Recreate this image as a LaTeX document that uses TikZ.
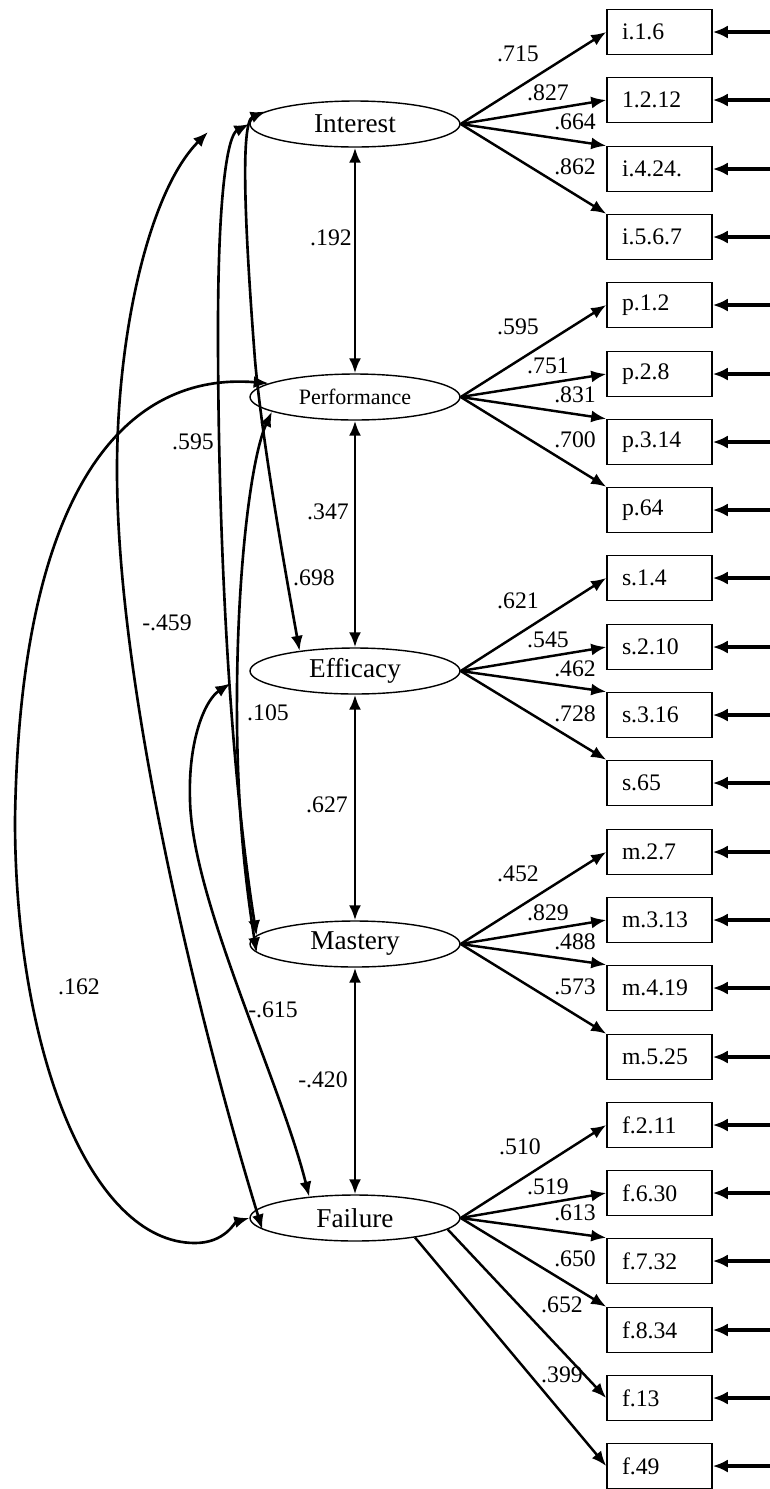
\documentclass[tikz,border=0pt]{standalone}
\usepackage{fontspec}
\setmainfont{Liberation Serif}
\usetikzlibrary{arrows.meta,shapes.geometric}

\begin{document}
\begin{tikzpicture}[x=0.02cm,y=-0.02cm,every node/.style={font=\fontsize{13.5}{14}\selectfont,inner sep=0pt},
latent/.style={ellipse,draw,line width=0.8pt,minimum width=4.2cm,minimum height=0.92cm,font=\fontsize{15.5}{16}\selectfont},
item/.style={draw,line width=0.9pt,text width=1.5cm,inner xsep=0.3cm,minimum height=0.9cm,align=left},
load/.style={-{Latex[length=3mm,width=2.4mm]},line width=1.4pt},
err/.style={-{Latex[length=3mm,width=2.6mm]},line width=2pt},
cov/.style={{Latex[length=3mm,width=2.4mm]}-{Latex[length=3mm,width=2.4mm]},line width=1.5pt}]
\useasboundingbox (0,0) rectangle (770,1489);
\node[latent] (int) at (355,124) {Interest};
\node[latent,font=\fontsize{12.5}{13}\selectfont] (perf) at (355,397) {Performance};
\node[latent] (eff) at (355,671) {Efficacy};
\node[latent] (mast) at (355,944) {Mastery};
\node[latent] (fail) at (355,1218) {Failure};
\node[item] (i1) at (659.5,32) {i.1.6};
\node[item] (i2) at (659.5,100) {1.2.12};
\node[item] (i3) at (659.5,169) {i.4.24.};
\node[item] (i4) at (659.5,237) {i.5.6.7};
\node[item] (p1) at (659.5,305) {p.1.2};
\node[item] (p2) at (659.5,374) {p.2.8};
\node[item] (p3) at (659.5,442) {p.3.14};
\node[item] (p4) at (659.5,510) {p.64};
\node[item] (s1) at (659.5,578) {s.1.4};
\node[item] (s2) at (659.5,647) {s.2.10};
\node[item] (s3) at (659.5,715) {s.3.16};
\node[item] (s4) at (659.5,783) {s.65};
\node[item] (m1) at (659.5,852) {m.2.7};
\node[item] (m2) at (659.5,920) {m.3.13};
\node[item] (m3) at (659.5,988) {m.4.19};
\node[item] (m4) at (659.5,1057) {m.5.25};
\node[item] (f1) at (659.5,1125) {f.2.11};
\node[item] (f2) at (659.5,1193) {f.6.30};
\node[item] (f3) at (659.5,1261) {f.7.32};
\node[item] (f4) at (659.5,1330) {f.8.34};
\node[item] (f5) at (659.5,1398) {f.13};
\node[item] (f6) at (659.5,1466) {f.49};
\coordinate (rim) at (770,0);
\coordinate (ifree) at (208,132);
\draw[load] (int.east)--(i1.west);\draw[load] (int.east)--(i2.west);\draw[load] (int.east)--(i3.north west);\draw[load] (int.east)--(i4.north west);
\draw[load] (perf.east)--(p1.west);\draw[load] (perf.east)--(p2.west);\draw[load] (perf.east)--(p3.north west);\draw[load] (perf.east)--(p4.north west);
\draw[load] (eff.east)--(s1.west);\draw[load] (eff.east)--(s2.west);\draw[load] (eff.east)--(s3.north west);\draw[load] (eff.east)--(s4.north west);
\draw[load] (mast.east)--(m1.west);\draw[load] (mast.east)--(m2.west);\draw[load] (mast.east)--(m3.north west);\draw[load] (mast.east)--(m4.north west);
\draw[load] (fail.east)--(f1.west);\draw[load] (fail.east)--(f2.west);\draw[load] (fail.east)--(f3.north west);\draw[load] (fail.east)--(f4.north west);
\draw[load] (fail.-7)--(f5.west);\draw[load] (fail.-18)--(f6.west);
\draw[err] (i1 -| rim)--(i1);\draw[err] (i2 -| rim)--(i2);\draw[err] (i3 -| rim)--(i3);\draw[err] (i4 -| rim)--(i4);
\draw[err] (p1 -| rim)--(p1);\draw[err] (p2 -| rim)--(p2);\draw[err] (p3 -| rim)--(p3);\draw[err] (p4 -| rim)--(p4);
\draw[err] (s1 -| rim)--(s1);\draw[err] (s2 -| rim)--(s2);\draw[err] (s3 -| rim)--(s3);\draw[err] (s4 -| rim)--(s4);
\draw[err] (m1 -| rim)--(m1);\draw[err] (m2 -| rim)--(m2);\draw[err] (m3 -| rim)--(m3);\draw[err] (m4 -| rim)--(m4);
\draw[err] (f1 -| rim)--(f1);\draw[err] (f2 -| rim)--(f2);\draw[err] (f3 -| rim)--(f3);\draw[err] (f4 -| rim)--(f4);\draw[err] (f5 -| rim)--(f5);\draw[err] (f6 -| rim)--(f6);
\draw[cov] (int)--(perf);\draw[cov] (perf)--(eff);\draw[cov] (eff)--(mast);\draw[cov] (mast)--(fail);
\draw[cov] (int.west) .. controls (228,135) and (218,190) .. (218,330) .. controls (218,560) and (232,780) .. (mast.175);
\draw[cov] (int.172) .. controls (240,122) and (245,230) .. (255,360) .. controls (262,440) and (285,570) .. (eff.160);
\draw[cov] (perf.171) .. controls (130,372) and (20,480) .. (15,820) .. controls (15,1050) and (90,1243) .. (195,1243) .. controls (225,1243) and (235,1222) .. (fail.west);
\draw[cov] (ifree) .. controls (150,190) and (117,330) .. (117,470) .. controls (117,700) and (207,1050) .. (fail.187);
\draw[cov] (perf.190) .. controls (252,455) and (238,560) .. (237,690) .. controls (236,800) and (245,880) .. (mast.185);
\draw[cov,shorten <=0.45cm] (eff.west) .. controls (205,700) and (188,740) .. (190,800) .. controls (192,900) and (280,1080) .. (fail.155);
\node (li1) at (518,54) {.715};\node (li2) at (548,93) {.827};\node (li3) at (575,122) {.664};\node (li4) at (575,167) {.862};
\node (lp1) at (518,327) {.595};\node (lp2) at (548,366) {.751};\node (lp3) at (575,395) {.831};\node (lp4) at (575,440) {.700};
\node (ls1) at (518,601) {.621};\node (ls2) at (548,640) {.545};\node (ls3) at (575,669) {.462};\node (ls4) at (575,714) {.728};
\node (lm1) at (518,874) {.452};\node (lm2) at (548,913) {.829};\node (lm3) at (575,942) {.488};\node (lm4) at (575,987) {.573};
\node (lf1) at (520,1147) {.510};\node (lf2) at (548,1187) {.519};\node (lf3) at (575,1213) {.613};\node (lf4) at (575,1259) {.650};\node (lf5) at (562,1305) {.652};\node (lf6) at (562,1375) {.399};
\node (cIP) at (331,238) {.192};\node (cPE) at (328,512) {.347};\node (cEM) at (327,805) {.627};\node (cMF) at (323,1080) {-.420};
\node (cIM) at (193,442) {.595};\node (cIE) at (314,578) {.698};\node (cIF) at (167,623) {-.459};
\node (cPM) at (268,713) {.105};\node (cPF) at (79,987) {.162};\node (cEF) at (273,1010) {-.615};
\end{tikzpicture}
\end{document}
